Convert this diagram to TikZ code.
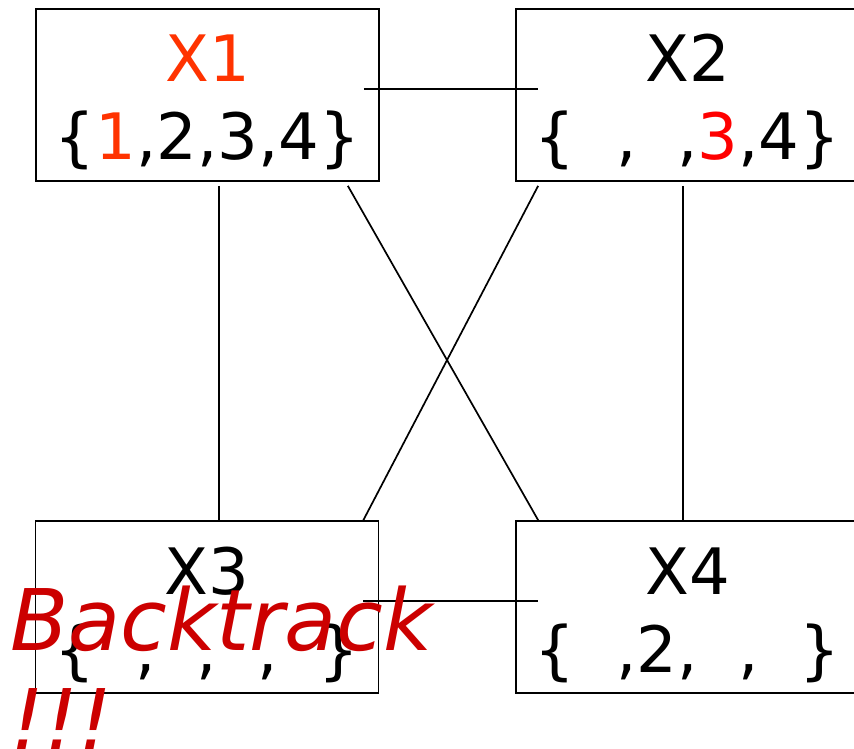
\documentclass[tikz,border=0pt]{standalone}
\usepackage{fontspec}
\setmainfont{DejaVu Sans}
\definecolor{xone}{HTML}{FF3300}
\definecolor{three}{HTML}{FF0000}
\definecolor{bt}{HTML}{CC0000}
\begin{document}
\begin{tikzpicture}[x=1pt,y=-1pt,
  box/.style={draw, line width=1.7pt, minimum width=343pt, minimum height=172pt, inner sep=0pt,
    align=center, font=\fontsize{64}{78}\selectfont, text height=130pt, text depth=0pt},
  link/.style={line width=1.7pt}]
\clip (0,0) rectangle (854,749);
\fill[white] (0,0) rectangle (854,749);
\node[box] (x1) at (207.5,95) {\textcolor{xone}{X1}\\\{\textcolor{xone}{1},2,3,4\}};
\node[box] (x2) at (687.5,95) {X2\\\{\phantom{1},\phantom{2},\textcolor{three}{3},4\}};
\node[box] (x3) at (207,607) {X3\\\{\phantom{1},\phantom{2},\phantom{3},\phantom{4}\}};
\node[box] (x4) at (687.5,607) {X4\\\{\phantom{1},2,\phantom{3},\phantom{4}\}};
\draw[link] ([xshift=-16pt,yshift=6pt]x1.east) -- ([xshift=23pt,yshift=6pt]x2.west);
\draw[link] ([xshift=-16pt,yshift=6pt]x3.east) -- ([xshift=23pt,yshift=6pt]x4.west);
\draw[link] ([xshift=11.5pt,yshift=-4pt]x1.south) -- ([xshift=12pt]x3.north);
\draw[link] ([xshift=-4.5pt,yshift=-4pt]x2.south) -- ([xshift=-4.5pt]x4.north);
\draw[link] ([xshift=-32pt,yshift=-4pt]x1.south east) -- ([xshift=23pt]x4.north west);
\draw[link] ([xshift=23pt,yshift=-4pt]x2.south west) -- ([xshift=-16pt]x3.north east);
\node[anchor=base west, align=left, inner sep=0pt, text=bt,
  font=\fontsize{85}{100}\selectfont\itshape] (bk) at (10,750) {Backtrack\\!!!};
\end{tikzpicture}
\end{document}
